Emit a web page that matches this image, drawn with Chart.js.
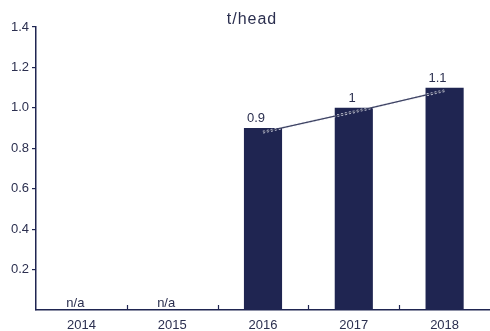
<!DOCTYPE html>
<html><head><meta charset="utf-8">
<script src="https://cdn.jsdelivr.net/npm/chart.js@4/dist/chart.umd.min.js"></script>
<style>html,body{margin:0;padding:0;background:#fff}#wrap{width:490px;height:331px}</style>
</head><body><div id="wrap"><canvas id="c" width="490" height="331"></canvas></div>
<script>
const categories = ['2014','2015','2016','2017','2018'];
const barValues = [null, null, 0.9, 1, 1.1];
const barLabels = ['n/a','n/a','0.9','1','1.1'];
const trendValues = [null, null, 0.88, 0.98, 1.085];
const yTicks = [0.2,0.4,0.6,0.8,1.0,1.2,1.4];
const title = 't/head';

const NAVY = '#1f2551';
const TXT = '#2b2f4f';
const FONT = '"Liberation Sans", Arial, sans-serif';

const extras = {
  id: 'extras',
  afterDatasetsDraw(chart) {
    const ctx = chart.ctx, xs = chart.scales.x;
    const ca = chart.chartArea;
    ctx.save();
    ctx.strokeStyle = NAVY; ctx.lineWidth = 1.2;
    for (let i = 1; i < categories.length; i++) {
      const x = Math.round((xs.getPixelForValue(i-1) + xs.getPixelForValue(i)) / 2) + 0.5;
      ctx.beginPath(); ctx.moveTo(x, ca.bottom); ctx.lineTo(x, ca.bottom - 5); ctx.stroke();
    }
    ctx.fillStyle = TXT;
    ctx.font = '13px ' + FONT;
    ctx.textAlign = 'right';
    ctx.textBaseline = 'alphabetic';
    const meta = chart.getDatasetMeta(0);
    barLabels.forEach((lab, i) => {
      const x = xs.getPixelForValue(i) + 2;
      if (barValues[i] == null) {
        ctx.fillText(lab, x + 1, ca.bottom - 3);
      } else {
        const el = meta.data[i];
        ctx.fillText(lab, x, el.y - 6);
      }
    });
    ctx.font = '16px ' + FONT;
    ctx.textAlign = 'center';
    ctx.textBaseline = 'middle';
    if ('letterSpacing' in ctx) ctx.letterSpacing = '1px';
    ctx.fillText(title, 252, 20);
    ctx.restore();
  }
};

new Chart(document.getElementById('c'), {
  data: {
    labels: categories,
    datasets: [
      { type: 'bar', data: barValues, backgroundColor: NAVY, borderWidth: 0,
        barPercentage: 0.42, categoryPercentage: 1, order: 3 },
      { type: 'line', data: trendValues, borderColor: '#e4e6f0', borderWidth: 2.6,
        borderDash: [2,2], pointRadius: 0, fill: false, order: 2 },
      { type: 'line', data: trendValues, borderColor: '#3d4262', borderWidth: 1.2,
        pointRadius: 0, fill: false, order: 1 }
    ]
  },
  options: {
    responsive: false, animation: false,
    layout: { padding: { top: 27, right: 0, left: 0, bottom: 0 } },
    plugins: { legend: { display: false }, tooltip: { enabled: false }, title: { display: false } },
    scales: {
      x: {
        grid: { display: false, drawTicks: false, tickLength: 0 },
        border: { display: true, color: NAVY, width: 1.5 },
        ticks: { color: TXT, font: { family: FONT, size: 13 }, padding: 8, maxRotation: 0 },
        afterFit(s) { s.height = 21; }
      },
      y: {
        min: 0, max: 1.4,
        afterBuildTicks(s) { s.ticks = yTicks.map(v => ({ value: v })); },
        grid: { display: true, drawOnChartArea: false, drawTicks: true, tickLength: 4, color: NAVY, lineWidth: 1.2 },
        border: { display: true, color: NAVY, width: 1.5 },
        ticks: { color: TXT, font: { family: FONT, size: 13 }, padding: 3,
          callback: v => Number(v).toFixed(1) },
        afterFit(s) { s.width = 36; }
      }
    }
  },
  plugins: [extras]
});
</script></body></html>
